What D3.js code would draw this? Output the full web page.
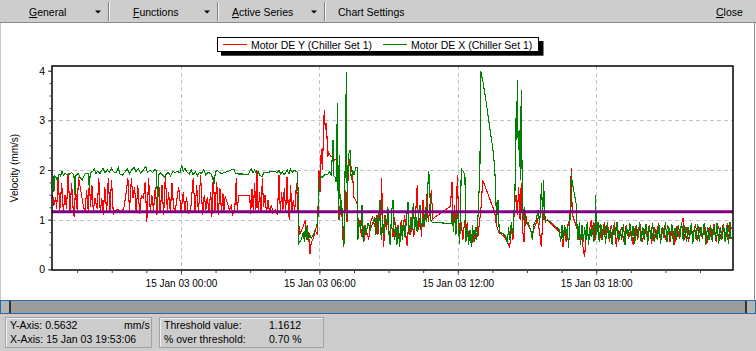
<!DOCTYPE html>
<html>
<head>
<meta charset="utf-8">
<script src="https://cdn.jsdelivr.net/npm/d3@7"></script>
<style>
    body { margin: 0; background: #ffffff; }
    svg { display: block; font-family: "Liberation Sans", Arial, sans-serif; }
</style>
</head>
<body>
<svg id="chart" width="756" height="351"></svg>
<script>
// chart data (hours from 15 Jan 03 00:00, velocity mm/s)
const seriesNames = ["Motor DE Y (Chiller Set 1)", "Motor DE X (Chiller Set 1)"];
const seriesColors = ["#ff0000", "#008000"];
const thresholdValue = 1.1612;
const yTicks = [0, 1, 2, 3, 4];
const yGridValues = [1, 2, 3];
const xMajorHours = [0, 6, 12, 18];
const xDomainHours = [-5.59, 23.93];
const menuItems = ["General", "Functions", "Active Series", "Chart Settings"];
const statusLeft = ["Y-Axis: 0.5632", "X-Axis: 15 Jan 03 19:53:06"];
const statusUnit = "mm/s";
const statusRightLabels = ["Threshold value:", "% over threshold:"];
const statusRightValues = ["1.1612", "0.70 %"];

// Motor DE Y (red)
const motorDeY = [
    [-5.56,1.50],[-5.51,1.28],[-5.43,1.45],[-5.39,1.22],[-5.32,1.83],[-5.25,1.19],[-5.17,1.73],[-5.10,1.16],
    [-5.03,1.50],[-4.96,1.22],[-4.89,1.93],[-4.81,1.14],[-4.74,1.73],[-4.67,1.18],[-4.63,1.06],[-4.57,1.63],
    [-4.50,1.20],[-4.44,1.86],[-4.24,1.30],[-4.16,1.15],[-4.09,1.59],[-4.02,1.18],[-3.97,1.80],[-3.92,1.25],
    [-3.86,1.69],[-3.80,1.16],[-3.73,1.43],[-3.63,1.22],[-3.56,1.83],[-3.50,1.15],[-3.43,1.43],[-3.37,1.10],
    [-3.30,1.66],[-3.22,1.16],[-3.15,1.83],[-3.08,1.16],[-3.01,1.80],[-2.93,1.10],[-2.85,1.19],[-2.72,1.20],
    [-2.57,1.14],[-2.47,1.25],[-2.39,1.49],[-2.30,1.83],[-2.23,1.16],[-2.15,1.83],[-2.08,1.43],[-2.01,1.66],
    [-1.94,1.16],[-1.87,1.69],[-1.79,1.12],[-1.72,1.49],[-1.62,1.43],[-1.55,1.76],[-1.48,0.96],[-1.40,1.83],
    [-1.33,1.16],[-1.26,1.49],[-1.19,1.19],[-1.11,1.66],[-1.04,1.10],[-0.97,1.83],[-0.90,1.13],[-0.82,1.69],
    [-0.75,1.09],[-0.68,1.86],[-0.59,1.20],[-0.54,1.55],[-0.46,1.16],[-0.39,1.73],[-0.32,1.25],[-0.25,1.16],
    [-0.10,1.66],[0.01,1.16],[0.10,1.56],[0.17,1.16],[0.24,1.46],[0.32,1.13],[0.42,1.20],[0.53,1.83],
    [0.61,1.16],[0.68,1.70],[0.76,1.13],[0.85,1.89],[0.94,1.10],[1.01,1.50],[1.08,1.20],[1.14,1.46],
    [1.21,1.16],[1.29,1.56],[1.34,1.06],[1.40,1.86],[1.47,1.16],[1.55,1.76],[1.62,1.10],[1.69,1.63],
    [1.76,1.16],[1.82,1.53],[1.86,1.18],[1.92,1.47],[2.00,1.35],[2.10,1.20],[2.18,1.28],[2.25,1.10],
    [2.33,1.20],[2.40,1.83],[2.44,1.15],[2.50,1.49],[2.98,1.49],[3.02,1.12],[3.08,1.62],[3.14,1.15],
    [3.19,1.73],[3.25,1.20],[3.29,2.00],[3.35,1.13],[3.41,1.56],[3.47,1.18],[3.53,1.83],[3.58,1.25],
    [3.64,1.50],[3.71,1.13],[3.77,1.40],[3.84,1.15],[3.92,1.30],[3.99,1.13],[4.09,1.20],[4.18,1.10],
    [4.25,1.90],[4.31,1.13],[4.36,1.56],[4.42,1.20],[4.48,1.63],[4.54,1.15],[4.60,1.86],[4.65,1.25],
    [4.70,0.99],[4.75,1.70],[4.81,1.16],[4.87,1.40],[4.93,1.18],[5.01,1.73],[5.07,1.18],[5.14,0.70],
    [5.29,0.85],[5.39,0.99],[5.48,0.60],[5.53,0.75],[5.59,0.30],[5.65,0.55],[5.74,0.62],[5.82,0.78],
    [5.90,0.72],[5.94,1.20],[5.98,2.00],[6.04,1.55],[6.08,2.43],[6.13,2.00],[6.17,2.60],[6.21,3.20],
    [6.26,2.80],[6.31,2.95],[6.36,2.26],[6.40,2.35],[6.49,2.28],[6.57,2.25],[6.66,2.20],[6.75,2.22],
    [6.81,1.80],[6.86,1.00],[6.92,1.45],[6.98,1.10],[7.04,0.45],[7.09,0.90],[7.15,1.60],[7.20,0.95],
    [7.25,2.00],[7.33,2.22],[7.38,2.05],[7.44,1.90],[7.50,1.45],[7.57,1.40],[7.64,1.30],[7.70,0.80],
    [7.76,1.00],[7.82,0.65],[7.88,0.95],[7.93,0.55],[7.99,0.90],[8.05,0.75],[8.14,0.60],[8.22,0.95],
    [8.31,1.05],[8.40,0.85],[8.48,1.10],[8.54,0.70],[8.60,1.25],[8.66,0.85],[8.70,1.83],[8.74,0.95],
    [8.79,0.45],[8.84,1.10],[8.90,0.80],[8.97,1.00],[9.05,0.60],[9.12,0.95],[9.19,0.65],[9.26,1.05],
    [9.34,0.55],[9.41,0.90],[9.48,0.60],[9.55,1.00],[9.62,0.75],[9.70,1.10],[9.77,0.55],[9.81,0.48],
    [9.87,0.95],[9.94,0.70],[10.01,1.05],[10.09,0.65],[10.16,1.00],[10.24,1.69],[10.30,0.80],[10.37,1.05],
    [10.43,0.65],[10.49,1.39],[10.55,0.85],[10.61,1.15],[10.66,1.52],[10.72,0.95],[10.78,1.20],[10.85,1.59],
    [10.92,1.02],[11.68,1.27],[11.75,1.76],[11.81,0.90],[11.86,1.30],[11.92,0.75],[11.98,1.89],[12.04,1.00],
    [12.09,0.70],[12.15,0.95],[12.22,0.60],[12.30,1.00],[12.35,0.70],[12.41,0.95],[12.48,0.55],[12.54,0.80],
    [12.60,0.45],[12.66,0.75],[12.73,0.55],[12.80,0.85],[12.87,0.65],[12.95,0.98],[13.02,1.30],[13.08,1.80],
    [13.60,1.15],[13.67,0.90],[13.77,0.75],[13.89,0.70],[14.03,0.65],[14.15,0.55],[14.25,0.45],[14.32,0.80],
    [14.39,0.60],[14.46,1.30],[14.52,1.50],[14.58,1.10],[14.64,1.65],[14.70,1.00],[14.75,1.73],[14.81,0.80],
    [14.87,0.55],[14.93,1.20],[14.98,0.95],[15.04,0.90],[15.22,0.72],[15.33,0.85],[15.45,1.00],[15.55,0.75],
    [15.62,0.45],[15.68,0.95],[15.74,1.20],[15.79,0.95],[15.88,1.00],[16.49,0.72],[16.56,0.45],[16.63,0.80],
    [16.70,0.55],[16.78,0.90],[16.85,1.00],[16.88,1.36],[16.92,2.03],[16.96,1.10],[17.01,1.05],[17.14,0.85],
    [17.24,0.70],[17.32,0.55],[17.38,0.65],[17.44,0.40],[17.50,0.24],[17.56,0.75],[17.61,0.90],[17.67,0.55],
    [17.73,0.85],[17.79,1.00],[17.84,0.70],[17.90,0.95],[17.96,0.60],[18.02,1.00],[18.08,0.75],[18.15,0.90],
    [18.22,0.60],[18.29,0.80],[18.36,0.95],[18.44,0.65],[18.51,0.85],[18.58,0.55],[18.65,0.90],[18.73,0.70],
    [18.80,0.95],[18.87,0.45],[18.94,0.80],[19.00,0.60],[19.10,0.85],[19.20,0.55],[19.30,0.90],[19.40,0.62],
    [19.50,0.80],[19.60,0.50],[19.70,0.88],[19.80,0.60],[19.90,0.92],[20.00,0.55],[20.10,0.80],[20.20,0.65],
    [20.30,0.90],[20.40,0.52],[20.50,0.85],[20.60,0.62],[20.70,0.93],[20.80,0.58],[20.90,0.82],[21.00,0.60],
    [21.10,0.90],[21.20,0.55],[21.30,0.86],[21.40,0.50],[21.50,0.88],[21.60,0.62],[21.70,0.92],[21.76,1.03],
    [21.82,0.60],[21.90,0.85],[22.00,0.55],[22.10,0.90],[22.20,0.65],[22.30,0.92],[22.40,0.58],[22.50,0.85],
    [22.60,0.62],[22.70,0.90],[22.80,0.52],[22.90,0.86],[23.00,0.60],[23.10,0.92],[23.20,0.56],[23.30,0.88],
    [23.40,0.62],[23.50,0.90],[23.60,0.55],[23.70,0.93],[23.80,0.62],[23.85,0.85]
];

// Motor DE X (green)
const motorDeX = [
    [-5.56,1.86],[-5.53,1.86],[-5.51,1.55],[-5.46,1.88],[-5.36,1.80],[-5.28,1.92],[-5.22,1.88],[-5.16,1.97],
    [-5.10,1.90],[-5.03,1.93],[-4.89,1.90],[-4.74,1.95],[-4.64,1.90],[-4.60,1.50],[-4.55,1.90],[-4.45,1.93],
    [-4.38,1.85],[-4.28,1.80],[-4.16,1.92],[-4.02,1.93],[-3.97,1.62],[-3.93,1.95],[-3.83,1.97],[-3.76,2.02],
    [-3.69,1.93],[-3.61,1.97],[-3.51,1.93],[-3.44,1.99],[-3.37,2.03],[-3.30,1.95],[-3.19,2.00],[-3.11,1.95],
    [-3.01,2.03],[-2.91,1.96],[-2.79,1.95],[-2.72,2.05],[-2.65,1.92],[-2.53,1.90],[-2.41,1.97],[-2.33,2.03],
    [-2.24,1.92],[-2.14,2.00],[-2.04,2.05],[-1.95,1.97],[-1.85,2.03],[-1.75,1.93],[-1.63,2.00],[-1.53,2.07],
    [-1.45,1.95],[-1.35,2.00],[-1.23,1.95],[-1.13,2.02],[-1.06,1.97],[-1.01,1.25],[-0.97,1.90],[-0.88,1.95],
    [-0.80,1.90],[-0.71,1.85],[-0.62,1.93],[-0.54,1.95],[-0.45,1.88],[-0.36,1.97],[-0.26,1.95],[-0.16,1.97],
    [-0.04,1.95],[0.03,2.10],[0.10,1.97],[0.17,2.03],[0.27,1.95],[0.36,1.92],[0.45,2.00],[0.53,1.90],
    [0.62,1.97],[0.71,1.88],[0.79,1.95],[0.89,1.93],[0.99,2.00],[1.08,1.90],[1.18,1.95],[1.29,1.93],
    [1.37,1.85],[1.43,1.72],[1.49,1.95],[1.57,2.00],[1.66,1.95],[1.76,1.93],[1.89,1.95],[2.04,1.97],
    [2.18,2.00],[2.30,2.02],[2.36,1.93],[2.47,1.92],[2.69,1.92],[2.90,1.90],[2.98,1.97],[3.05,2.02],
    [3.12,1.95],[3.19,2.00],[3.27,1.92],[3.34,1.97],[3.41,1.90],[3.51,1.86],[3.60,1.95],[3.77,1.95],
    [3.92,1.97],[4.06,1.97],[4.18,1.95],[4.25,2.00],[4.32,1.92],[4.39,1.97],[4.47,1.90],[4.54,1.95],
    [4.61,2.00],[4.68,1.92],[4.75,2.02],[4.83,1.95],[4.90,2.00],[5.00,1.97],[5.06,1.95],[5.09,1.25],
    [5.10,0.52],[5.22,0.60],[5.30,0.75],[5.35,0.55],[5.39,0.85],[5.43,0.60],[5.48,0.90],[5.52,0.55],
    [5.58,0.70],[5.65,0.62],[5.74,0.70],[5.82,0.80],[5.88,0.85],[5.94,1.05],[5.98,1.55],[6.04,1.90],
    [6.11,1.85],[6.23,1.90],[6.37,1.92],[6.44,1.97],[6.52,1.90],[6.59,2.60],[6.63,1.88],[6.69,1.85],
    [6.73,1.75],[6.78,3.35],[6.82,1.00],[6.86,2.30],[6.91,1.10],[6.96,1.40],[7.02,0.90],[7.07,0.50],
    [7.12,2.20],[7.17,3.97],[7.21,1.00],[7.25,2.30],[7.33,2.40],[7.38,1.80],[7.44,2.00],[7.50,1.90],
    [7.59,2.05],[7.64,2.05],[7.67,0.60],[7.73,1.00],[7.79,0.75],[7.85,1.30],[7.90,0.55],[7.96,0.90],
    [8.02,0.70],[8.11,0.93],[8.22,0.80],[8.32,0.95],[8.40,1.05],[8.45,0.70],[8.51,1.10],[8.57,0.85],
    [8.63,1.39],[8.68,0.60],[8.74,1.00],[8.80,0.70],[8.86,1.10],[8.92,0.90],[8.97,1.25],[9.03,0.60],
    [9.07,0.50],[9.13,1.15],[9.19,1.39],[9.25,0.60],[9.31,0.95],[9.36,0.50],[9.42,0.85],[9.48,0.45],
    [9.54,0.90],[9.60,0.60],[9.65,1.00],[9.71,0.65],[9.77,0.95],[9.84,1.36],[9.90,0.70],[9.96,1.05],
    [10.01,0.75],[10.07,1.33],[10.13,0.80],[10.19,1.05],[10.24,0.75],[10.30,1.10],[10.36,1.30],[10.42,0.80],
    [10.48,1.05],[10.53,0.85],[10.59,1.15],[10.65,0.95],[10.69,1.60],[10.74,1.97],[10.78,1.80],[10.82,1.00],
    [10.88,0.95],[11.43,0.93],[11.72,0.92],[11.76,1.20],[11.81,0.75],[11.86,1.10],[11.92,0.70],[11.96,1.00],
    [12.01,1.20],[12.07,0.50],[12.11,0.90],[12.15,2.02],[12.24,1.97],[12.31,1.90],[12.35,0.55],[12.41,0.85],
    [12.47,0.50],[12.53,0.80],[12.59,0.45],[12.64,0.90],[12.70,0.55],[12.76,0.85],[12.82,0.60],[12.87,1.00],
    [12.92,1.55],[12.96,2.00],[12.99,4.00],[13.09,3.78],[13.24,3.34],[13.38,2.87],[13.52,2.43],[13.60,2.06],
    [13.64,1.59],[13.68,0.95],[13.74,1.40],[13.80,0.75],[13.96,0.72],[14.10,0.65],[14.15,0.52],[14.20,0.85],
    [14.26,0.60],[14.32,0.95],[14.38,0.70],[14.44,1.20],[14.48,1.60],[14.52,3.04],[14.55,2.60],[14.58,3.82],
    [14.62,2.40],[14.67,2.80],[14.71,1.80],[14.75,3.61],[14.80,1.40],[14.84,1.00],[14.88,1.25],[14.94,0.90],
    [15.04,0.95],[15.16,0.80],[15.23,0.60],[15.30,0.90],[15.40,1.00],[15.48,1.20],[15.55,0.90],[15.59,1.30],
    [15.63,1.73],[15.68,1.00],[15.72,1.80],[15.77,1.10],[15.81,0.99],[16.05,0.95],[16.27,0.85],[16.39,0.80],
    [16.46,0.55],[16.52,0.90],[16.57,0.60],[16.63,0.90],[16.69,0.70],[16.75,0.85],[16.80,0.42],[16.86,0.95],
    [16.92,1.96],[16.96,1.75],[17.02,1.60],[17.08,1.45],[17.14,1.30],[17.17,0.85],[17.21,0.60],[17.27,0.95],
    [17.32,0.50],[17.38,0.90],[17.44,0.55],[17.50,0.85],[17.56,0.60],[17.61,0.95],[17.67,0.50],[17.73,0.80],
    [17.79,0.65],[17.84,0.90],[17.90,0.55],[17.95,0.85],[17.97,1.49],[18.02,0.70],[18.08,0.95],[18.13,0.55],
    [18.20,0.92],[18.27,0.60],[18.34,0.88],[18.41,0.52],[18.48,0.95],[18.55,0.62],[18.62,0.85],[18.69,0.50],
    [18.76,0.90],[18.83,0.65],[18.90,0.95],[18.97,0.55],[19.04,0.80],[19.11,0.60],[19.18,0.92],[19.25,0.50],
    [19.32,0.85],[19.39,0.65],[19.46,0.93],[19.53,0.58],[19.60,0.88],[19.67,0.52],[19.74,0.90],[19.81,0.66],
    [19.88,0.95],[19.95,0.55],[20.02,0.85],[20.09,0.60],[20.16,0.92],[20.23,0.50],[20.30,0.88],[20.37,0.62],
    [20.44,0.94],[20.51,0.56],[20.58,0.82],[20.65,0.60],[20.72,0.90],[20.79,0.52],[20.86,0.86],[20.93,0.64],
    [21.00,0.95],[21.07,0.55],[21.14,0.88],[21.21,0.62],[21.28,0.92],[21.35,0.50],[21.42,0.84],[21.49,0.60],
    [21.56,0.90],[21.63,0.65],[21.70,0.96],[21.77,0.58],[21.84,0.90],[21.91,0.55],[21.98,0.85],[22.05,0.62],
    [22.12,0.93],[22.19,0.52],[22.26,0.88],[22.33,0.60],[22.40,0.92],[22.47,0.55],[22.54,0.86],[22.61,0.63],
    [22.68,0.94],[22.75,0.50],[22.82,0.85],[22.89,0.60],[22.96,0.90],[23.03,0.55],[23.10,0.88],[23.17,0.62],
    [23.24,0.93],[23.31,0.52],[23.38,0.86],[23.45,0.60],[23.52,0.92],[23.59,0.55],[23.66,0.90],[23.73,0.52],
    [23.80,0.95],[23.85,0.60]
];

const baseTime = new Date(2003, 0, 15, 0, 0, 0).getTime();
const toDate = h => new Date(baseTime + h * 3600 * 1000);

const svg = d3.select("#chart");
const W = 756, H = 351;
const plot = { left: 52, right: 733, top: 66, bottom: 270 };

// --- toolbar
svg.append("rect").attr("x", 0).attr("y", 0).attr("width", W).attr("height", 22).attr("fill", "#cdcdcd");
svg.append("line").attr("x1", 0).attr("x2", W).attr("y1", 22.5).attr("y2", 22.5).attr("stroke", "#8a8a8a");

const menuX = [29, 133, 232, 338];
const arrowX = [98, 207, 314];
const sepX = [108, 217, 324];

menuItems.forEach((name, i) => {
    const t = svg.append("text").attr("x", menuX[i]).attr("y", 16)
        .attr("font-size", "10.5px").attr("fill", "#000");
    if (i < 3) {
        t.append("tspan").style("text-decoration", "underline").text(name[0]);
        t.append("tspan").text(name.slice(1));
    } else {
        t.text(name);
    }
});
arrowX.forEach(x => {
    svg.append("path").attr("d", `M${x - 3},10.5 L${x + 3},10.5 L${x},13.5 Z`).attr("fill", "#000");
});
sepX.forEach(x => {
    svg.append("line").attr("x1", x + 0.5).attr("x2", x + 0.5).attr("y1", 2).attr("y2", 21).attr("stroke", "#808080");
    svg.append("line").attr("x1", x + 1.5).attr("x2", x + 1.5).attr("y1", 2).attr("y2", 21).attr("stroke", "#f4f4f4");
});
const closeText = svg.append("text").attr("x", 716).attr("y", 16).attr("font-size", "10.5px");
closeText.append("tspan").style("text-decoration", "underline").text("C");
closeText.append("tspan").text("lose");

// --- white chart panel borders
svg.append("line").attr("x1", 0.5).attr("x2", 0.5).attr("y1", 23).attr("y2", 300).attr("stroke", "#c8c8c8");
svg.append("line").attr("x1", 754.5).attr("x2", 754.5).attr("y1", 23).attr("y2", 300).attr("stroke", "#8c8c8c");

// --- scales
const x = d3.scaleTime()
    .domain([toDate(xDomainHours[0]), toDate(xDomainHours[1])])
    .range([plot.left, plot.right]);

const y = d3.scaleLinear()
    .domain([0, 4])
    .range([269.3, 70.7]);

// grid
const grid = svg.append("g");
grid.selectAll(".hgrid").data(yGridValues).enter().append("line")
    .attr("x1", plot.left).attr("x2", plot.right)
    .attr("y1", d => Math.round(y(d)) + 0.5).attr("y2", d => Math.round(y(d)) + 0.5)
    .attr("stroke", "#c4c4c4").attr("stroke-dasharray", "4,3");
grid.selectAll(".vgrid").data(xMajorHours).enter().append("line")
    .attr("x1", d => Math.round(x(toDate(d))) + 0.5).attr("x2", d => Math.round(x(toDate(d))) + 0.5)
    .attr("y1", plot.top).attr("y2", plot.bottom)
    .attr("stroke", "#c4c4c4").attr("stroke-dasharray", "4,3");

// series lines
const line = d3.line()
    .x(d => x(toDate(d[0])))
    .y(d => y(d[1]));

[motorDeY, motorDeX].forEach((series, i) => {
    svg.append("path")
        .datum(series)
        .attr("fill", "none")
        .attr("stroke", seriesColors[i])
        .attr("stroke-width", 1.1)
        .attr("shape-rendering", "crispEdges")
        .attr("d", line);
});

// threshold line
svg.append("line")
    .attr("x1", plot.left).attr("x2", plot.right)
    .attr("y1", y(thresholdValue)).attr("y2", y(thresholdValue))
    .attr("stroke", "#800080").attr("stroke-width", 3);

// frame
svg.append("rect")
    .attr("x", plot.left).attr("y", plot.top)
    .attr("width", plot.right - plot.left).attr("height", plot.bottom - plot.top)
    .attr("fill", "none").attr("stroke", "#000").attr("stroke-width", 1.5);

// y axis
const yAxis = svg.append("g")
    .attr("transform", `translate(${plot.left},0)`)
    .call(d3.axisLeft(y).tickValues(yTicks).tickSize(4).tickPadding(3).tickFormat(d3.format("d")));
yAxis.select(".domain").remove();
yAxis.selectAll("line").attr("stroke", "#404040");
yAxis.selectAll("text").attr("font-size", "10.5px").attr("fill", "#000")
    .attr("font-family", "Liberation Sans, Arial, sans-serif");

const yMinor = svg.append("g")
    .attr("transform", `translate(${plot.left},0)`)
    .call(d3.axisLeft(y).tickValues(d3.range(0, 4.01, 0.25)).tickSize(2.5).tickFormat(""));
yMinor.select(".domain").remove();
yMinor.selectAll("line").attr("stroke", "#404040");

// x axis
const fmt = d3.timeFormat("%d %b %y %H:%M");
const xAxis = svg.append("g")
    .attr("transform", `translate(0,${plot.bottom})`)
    .call(d3.axisBottom(x).tickValues(xMajorHours.map(toDate)).tickSize(5).tickPadding(5).tickFormat(fmt));
xAxis.select(".domain").remove();
xAxis.selectAll("line").attr("stroke", "#7a7a7a");
xAxis.selectAll("text").attr("font-size", "10px").attr("fill", "#000")
    .attr("font-family", "Liberation Sans, Arial, sans-serif");

const xMinor = svg.append("g")
    .attr("transform", `translate(0,${plot.bottom})`)
    .call(d3.axisBottom(x).tickValues(d3.range(-4.5, 24, 1.5).map(toDate)).tickSize(3).tickFormat(""));
xMinor.select(".domain").remove();
xMinor.selectAll("line").attr("stroke", "#404040");

// y axis title
svg.append("text")
    .attr("transform", `translate(18,${(plot.top + plot.bottom) / 2}) rotate(-90)`)
    .attr("text-anchor", "middle")
    .attr("font-size", "10px")
    .text("Velocity (mm/s)");

// legend
svg.append("rect").attr("x", 221).attr("y", 41).attr("width", 322.5).attr("height", 14.7).attr("fill", "#000");
svg.append("rect").attr("x", 217.5).attr("y", 37.5).attr("width", 321).attr("height", 14).attr("fill", "#fff").attr("stroke", "#000");
const legendX = [223, 383];
seriesNames.forEach((name, i) => {
    svg.append("line").attr("x1", legendX[i]).attr("x2", legendX[i] + 24)
        .attr("y1", 44.5).attr("y2", 44.5).attr("stroke", seriesColors[i]);
    svg.append("text").attr("x", legendX[i] + 28).attr("y", 48.5)
        .attr("font-size", "10.5px").text(name);
});

// --- scrollbar
svg.append("rect").attr("x", 0.5).attr("y", 300.5).attr("width", 755).attr("height", 13)
    .attr("fill", "#9c9c9c").attr("stroke", "#2a6aa8");
svg.append("rect").attr("x", 1).attr("y", 301).attr("width", 8).attr("height", 12).attr("fill", "#b4b4b4");
svg.append("rect").attr("x", 9).attr("y", 301).attr("width", 2).attr("height", 12).attr("fill", "#333");
svg.append("rect").attr("x", 747).attr("y", 301).attr("width", 8).attr("height", 12).attr("fill", "#b4b4b4");
svg.append("rect").attr("x", 745).attr("y", 301).attr("width", 2).attr("height", 12).attr("fill", "#333");

// --- status bar
svg.append("rect").attr("x", 0).attr("y", 314).attr("width", W).attr("height", H - 314).attr("fill", "#cdcdcd");
const panels = [[5, 146], [159, 164]];
panels.forEach(([px, pw]) => {
    svg.append("rect").attr("x", px + 0.5).attr("y", 317.5).attr("width", pw).attr("height", 30)
        .attr("fill", "#cdcdcd").attr("stroke", "#a2a2a2");
    svg.append("path").attr("d", `M${px + 1.5},346.5 V318.5 H${px + pw - 0.5}`)
        .attr("fill", "none").attr("stroke", "#f0f0f0");
});
statusLeft.forEach((s, i) => {
    svg.append("text").attr("x", 10).attr("y", 329 + i * 14).attr("font-size", "10.5px").text(s);
});
svg.append("text").attr("x", 124).attr("y", 329).attr("font-size", "10.5px").text(statusUnit);
statusRightLabels.forEach((s, i) => {
    svg.append("text").attr("x", 164).attr("y", 329 + i * 14).attr("font-size", "10.5px").text(s);
    svg.append("text").attr("x", 269).attr("y", 329 + i * 14).attr("font-size", "10.5px").text(statusRightValues[i]);
});
</script>
</body>
</html>
